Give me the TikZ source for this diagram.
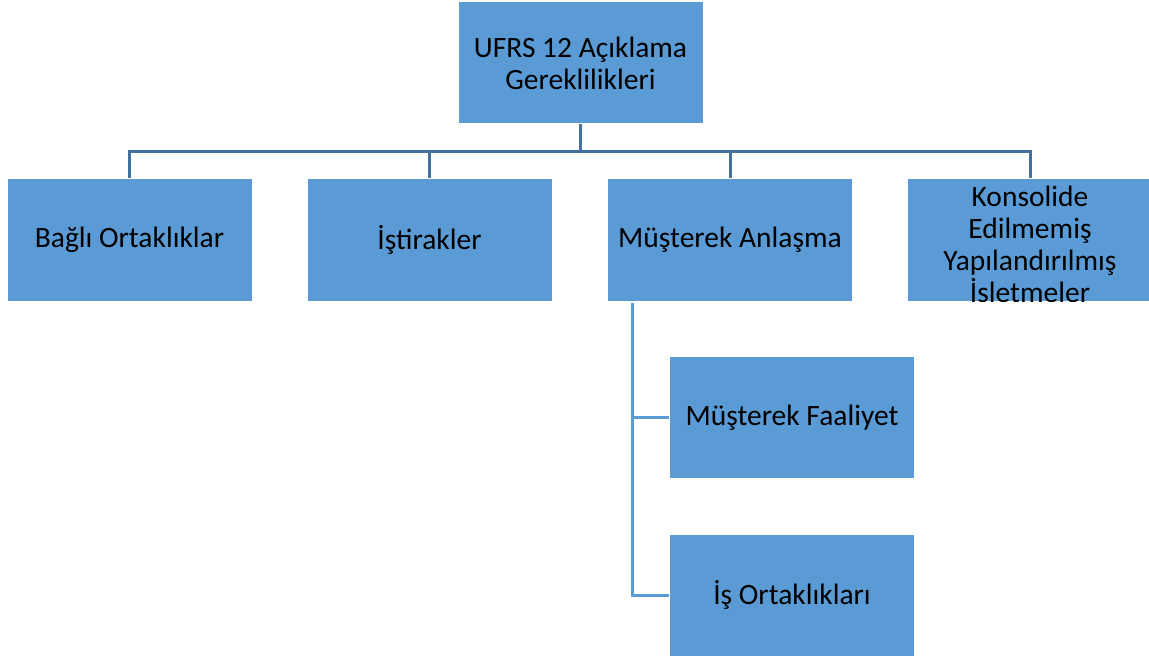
\documentclass[tikz,border=0pt]{standalone}
\usepackage{fontspec}
\setmainfont{Carlito}
\definecolor{boxblue}{HTML}{5B9BD5}
\definecolor{linedark}{HTML}{41719C}
\begin{document}
\begin{tikzpicture}[x=1pt,y=-1pt,
  box/.style={rectangle,fill=boxblue,draw=white,line width=1pt,minimum width=245pt,minimum height=122pt,inner sep=0pt,align=center,font=\fontsize{29.5}{32}\selectfont},
  conn/.style={draw=linedark,line width=3pt},
  subconn/.style={draw=boxblue,line width=3pt}]
\useasboundingbox (0,0) rectangle (1149,658);
\node[box] (top) at (580.5,63) {UFRS 12 Açıklama\\Gereklilikleri};
\node[box] (b1) at (129.5,240) {Bağlı Ortaklıklar};
\node[box] (b2) at (429.5,240) {İştirakler};
\node[box] (b3) at (730,240) {Müşterek Anlaşma};
\node[box] (b4) at (1030,240) {};
\begin{scope}
\clip (b4.south west) rectangle (b4.north east);
\node[align=center,inner sep=0pt,font=\fontsize{29.5}{32}\selectfont] (b4t) at (1030,247) {Konsolide\\Edilmemiş\\Yapılandırılmış\\İşletmeler};
\end{scope}
\node[box] (s1) at (792,417.5) {Müşterek Faaliyet};
\node[box] (s2) at (792,595) {İş Ortaklıkları};
\coordinate (bus) at (580.5,152);
\draw[conn] (top.south) -- (bus);
\draw[conn] (b1.north) |- (bus) -| (b4.north);
\draw[conn] (b2.north) -- (b2.north |- bus);
\draw[conn] (b3.north) -- (b3.north |- bus);
\coordinate (sub) at (632,303);
\draw[subconn] (sub) |- (s2.west);
\draw[subconn] (sub |- s1.west) -- (s1.west);
\end{tikzpicture}
\end{document}
